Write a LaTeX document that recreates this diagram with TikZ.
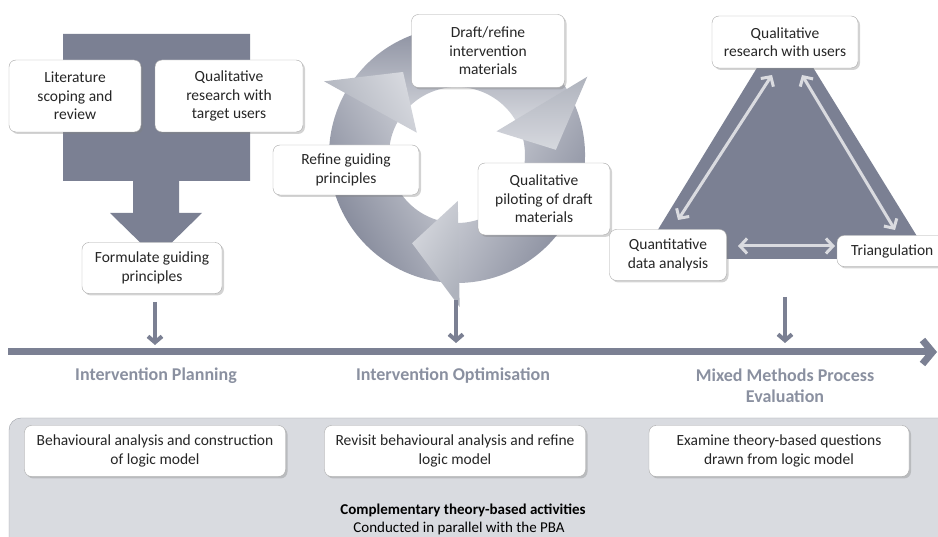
\documentclass[tikz,border=0pt]{standalone}
\usepackage{fontspec}
\setmainfont{Carlito}
\usetikzlibrary{arrows.meta,shadows}
\definecolor{slate}{HTML}{7B8093}
\definecolor{ringdark}{HTML}{7D8294}
\definecolor{ringlight}{HTML}{D6D8DE}
\definecolor{headdark}{HTML}{AFB3BD}
\definecolor{tarrow}{HTML}{DADBE0}
\definecolor{phasecol}{HTML}{8A90A0}
\definecolor{panelfill}{HTML}{D9DBE0}
\definecolor{panelline}{HTML}{9C9FA6}
\definecolor{boxline}{HTML}{A8A8A8}
\definecolor{boxtext}{HTML}{262626}

\begin{document}
\begin{tikzpicture}[x=1pt,y=-1pt,
    box/.style={draw=boxline,fill=white,rounded corners=7pt,align=center,
      text=boxtext,font=\fontsize{15.5}{18.5}\selectfont,inner sep=2pt,
      drop shadow={shadow xshift=2pt,shadow yshift=-2pt,opacity=.35}}]
    \tikzstyle{phase}=[text=phasecol,align=center,font=\fontsize{18}{21}\selectfont\bfseries]
    \tikzstyle{downarr}=[draw=slate,line width=4pt,-{Straight Barb[length=6pt,width=14pt]}]
    \tikzstyle{trarr}=[draw=tarrow,line width=3pt,{Straight Barb[length=7pt,width=15pt]}-{Straight Barb[length=7pt,width=15pt]}]
    \tikzstyle{headfill}=[left color=headdark,right color=ringlight]
    \useasboundingbox (0,0) rectangle (938,537);
    % bottom panel
    \draw[draw=panelline,fill=panelfill,rounded corners=12pt] (9,418) rectangle (952,552);
    % planning: big arrow
    \fill[slate] (63,34) -- (250,34) -- (250,181) -- (179,181) -- (179,213) -- (202,213)
      -- (156,258) -- (110,213) -- (133,213) -- (133,181) -- (63,181) -- cycle;
    % optimisation: cycle
    \begin{scope}[shift={(457,155)}]
      \shade[left color=ringdark,right color=ringlight,shading angle=120]
        (92:128) arc[start angle=92,end angle=212,radius=128] -- (212:68)
        arc[start angle=212,end angle=92,radius=68] -- cycle;
      \shade[left color=ringdark,right color=ringlight,shading angle=0]
        (212:128) arc[start angle=212,end angle=332,radius=128] -- (332:68)
        arc[start angle=332,end angle=212,radius=68] -- cycle;
      \shade[left color=ringdark,right color=ringlight,shading angle=240]
        (332:128) arc[start angle=332,end angle=452,radius=128] -- (452:68)
        arc[start angle=452,end angle=332,radius=68] -- cycle;
      \shade[headfill,shading angle=120] (209:152) -- (237:99) -- (209:46) -- cycle;
      \shade[headfill,shading angle=0] (329:152) -- (357:99) -- (329:46) -- cycle;
      \shade[headfill,shading angle=240] (89:152) -- (117:99) -- (89:46) -- cycle;
    \end{scope}
    % evaluation: triangle
    \fill[slate,rounded corners=3pt] (785,22) -- (931,259) -- (640,259) -- cycle;

    \node[box,minimum width=132pt,minimum height=72pt] (lit) at (75,96) {Literature\\scoping and\\review};
    \node[box,minimum width=148pt,minimum height=72pt] (qtarget) at (229,96) {Qualitative\\research with\\target users};
    \node[box,minimum width=140pt,minimum height=51pt] (form) at (152,268) {Formulate guiding\\principles};
    \node[box,minimum width=146pt,minimum height=50pt] (refine) at (346,170) {Refine guiding\\principles};
    \node[box,minimum width=153pt,minimum height=73pt] (draft) at (488,51) {Draft/refine\\intervention\\materials};
    \node[box,minimum width=132pt,minimum height=72pt] (pilot) at (544,199) {Qualitative\\piloting of draft\\materials};
    \node[box,minimum width=146pt,minimum height=52pt] (quser) at (785,42) {Qualitative\\research with users};
    \node[box,minimum width=117pt,minimum height=51pt] (quant) at (668,255) {Quantitative\\data analysis};
    \node[box,minimum width=110pt,minimum height=31pt,text width=82pt,align=left] (tri) at (892,251) {Triangulation};

    \coordinate (q1) at (772,75);  \coordinate (q2) at (678,220);
    \coordinate (q3) at (802,75);  \coordinate (q4) at (895,230);
    \coordinate (q5) at (738,246); \coordinate (q6) at (835,246);
    \draw[trarr] (q1) -- (q2);
    \draw[trarr] (q3) -- (q4);
    \draw[trarr] (q5) -- (q6);

    % timeline
    \coordinate (tl0) at (8,352);
    \coordinate (tl1) at (937,352);
    \draw[draw=slate,line width=7pt,-{Straight Barb[length=10pt,width=24pt]}] (tl0) -- (tl1);
    \coordinate (s1) at (155,302); \coordinate (e1) at (155,345);
    \coordinate (s2) at (456,300); \coordinate (e2) at (456,343);
    \coordinate (s3) at (785,297); \coordinate (e3) at (785,343);
    \draw[downarr] (s1) -- (e1);
    \draw[downarr] (s2) -- (e2);
    \draw[downarr] (s3) -- (e3);

    \node[phase] (plan) at (156,376) {Intervention Planning};
    \node[phase] (optim) at (453,376) {Intervention Optimisation};
    \node[phase] (mixed) at (785,386) {Mixed Methods Process\\Evaluation};

    % theory-based activities
    \node[box,minimum width=261pt,minimum height=51pt] (behav) at (155,451) {Behavioural analysis and construction\\of logic model};
    \node[box,minimum width=261pt,minimum height=51pt] (revisit) at (455,451) {Revisit behavioural analysis and refine\\logic model};
    \node[box,minimum width=260pt,minimum height=51pt] (examine) at (779,451) {Examine theory-based questions\\drawn from logic model};
    \node[text=black,font=\fontsize{15}{18}\selectfont\bfseries] (compl) at (463,510) {Complementary theory-based activities};
    \node[text=black,font=\fontsize{15}{18}\selectfont] (parallel) at (459,529) {Conducted in parallel with the PBA};
  \end{tikzpicture}
\end{document}
